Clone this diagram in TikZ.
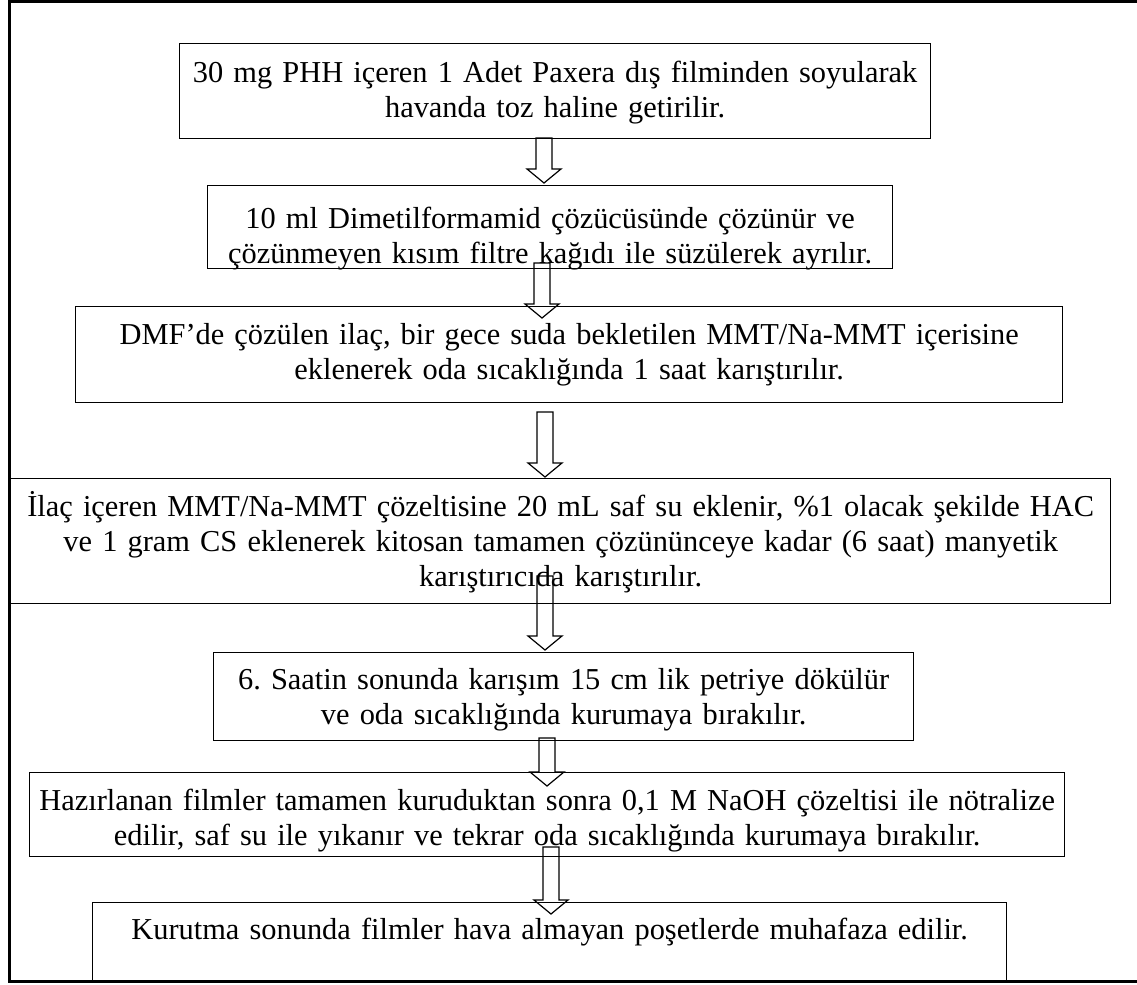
\documentclass[tikz,border=0pt]{standalone}
\usepackage{fontspec}
\setmainfont{Liberation Serif}
\usetikzlibrary{calc}
\newlength{\unitpx}
\setlength{\unitpx}{0.5pt}
\tikzset{
  stepbox/.style={draw,line width=0.65pt,anchor=north west,inner sep=0pt,align=center,
    font=\fontsize{15.2}{17.5}\selectfont},
  flowarrow/.style={draw,line width=0.6pt,line join=miter},
  frameline/.style={line width=1.5pt}
}
% hollow block arrow from (#1) down to its tip (#2)
\newcommand{\blockarrow}[2]{%
  \draw[flowarrow] let \p1=(#1), \p2=(#2) in
    (\x1-4pt,\y1)--(\x1+4pt,\y1)--(\x1+4pt,\y2+7pt)--(\x1+8.5pt,\y2+7pt)
    --(\x2,\y2)--(\x1-8.5pt,\y2+7pt)--(\x1-4pt,\y2+7pt)--cycle;}
\frenchspacing
\begin{document}
\begin{tikzpicture}[x=0.5pt,y=-0.5pt]
\useasboundingbox(0,0)rectangle(1137,985);
\draw[frameline](1137,1.5)--(9.5,1.5)--(9.5,981.5)--(1137,981.5);
% steps
\node[stepbox,text width=751\unitpx,text height=39\unitpx,text depth=56\unitpx](b1)at(179,43)
  {30 mg PHH içeren 1 Adet Paxera dış filminden soyularak\\havanda toz haline getirilir.};
\node[stepbox,text width=685\unitpx,text height=43\unitpx,text depth=40\unitpx](b2)at(207,185)
  {10 ml Dimetilformamid çözücüsünde çözünür ve\\çözünmeyen kısım filtre kağıdı ile süzülerek ayrılır.};
\node[stepbox,text width=987\unitpx,text height=38\unitpx,text depth=58\unitpx](b3)at(75,306)
  {DMF’de çözülen ilaç, bir gece suda bekletilen MMT/Na-MMT içerisine\\eklenerek oda sıcaklığında 1 saat karıştırılır.};
\node[stepbox,text width=1100\unitpx,text height=38\unitpx,text depth=87\unitpx](b4)at(10,478)
  {İlaç içeren MMT/Na-MMT çözeltisine 20 mL saf su eklenir, \%1 olacak şekilde HAC\\ve 1 gram CS eklenerek kitosan tamamen çözününceye kadar (6 saat) manyetik\\karıştırıcıda karıştırılır.};
\node[stepbox,text width=700\unitpx,text height=37\unitpx,text depth=51\unitpx](b5)at(213,652)
  {6. Saatin sonunda karışım 15 cm lik petriye dökülür\\ve oda sıcaklığında kurumaya bırakılır.};
\node[stepbox,text width=1035\unitpx,text height=38\unitpx,text depth=46\unitpx](b6)at(29,772)
  {Hazırlanan filmler tamamen kuruduktan sonra 0,1 M NaOH çözeltisi ile nötralize\\edilir, saf su ile yıkanır ve tekrar oda sıcaklığında kurumaya bırakılır.};
\node[stepbox,text width=914\unitpx,text height=37\unitpx,text depth=41\unitpx](b7)at(92,902)
  {Kurutma sonunda filmler hava almayan poşetlerde muhafaza edilir.};
% arrows
\coordinate(a1s)at(544,138);\coordinate(a1e)at(544,183);
\coordinate(a2s)at(542,263);\coordinate(a2e)at(542,318);
\coordinate(a3s)at(545,412);\coordinate(a3e)at(545,477);
\coordinate(a4s)at(545,576);\coordinate(a4e)at(545,650);
\coordinate(a5s)at(547,738);\coordinate(a5e)at(547,786);
\coordinate(a6s)at(551,847);\coordinate(a6e)at(551,914);
\blockarrow{a1s}{a1e}
\blockarrow{a2s}{a2e}
\blockarrow{a3s}{a3e}
\blockarrow{a4s}{a4e}
\blockarrow{a5s}{a5e}
\blockarrow{a6s}{a6e}
\end{tikzpicture}
\end{document}
